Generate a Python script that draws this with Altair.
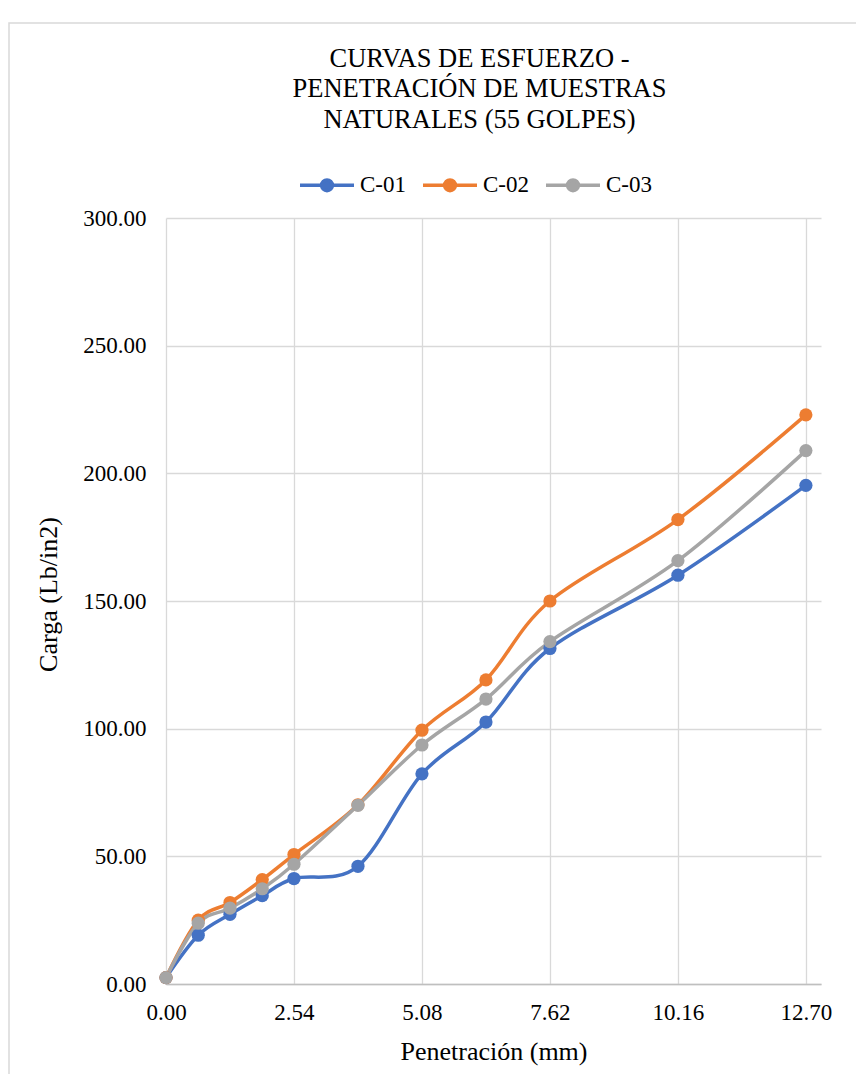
import altair as alt
import pandas as pd

# ---- data ----
penetracion = [0.00, 0.64, 1.27, 1.91, 2.54, 3.81, 5.08, 6.35, 7.62, 10.16, 12.70]
c01 = [2.5, 19.1, 27.3, 34.6, 41.3, 46.1, 82.3, 102.6, 131.4, 160.1, 195.3]
c02 = [2.5, 25.0, 31.9, 40.9, 50.7, 70.2, 99.4, 119.1, 150.0, 181.9, 222.9]
c03 = [2.5, 23.8, 29.7, 37.3, 46.9, 70.0, 93.6, 111.6, 134.1, 165.8, 208.9]
series_names = ["C-01", "C-02", "C-03"]
series_colors = ["#4472C4", "#ED7D31", "#A5A5A5"]
x_ticks = [0.00, 2.54, 5.08, 7.62, 10.16, 12.70]
y_ticks = [0, 50, 100, 150, 200, 250, 300]
title_lines = ["CURVAS DE ESFUERZO -", "PENETRACIÓN DE MUESTRAS", "NATURALES (55 GOLPES)"]

rows = []
for name, vals in zip(series_names, [c01, c02, c03]):
    for xv, yv in zip(penetracion, vals):
        rows.append({"x": xv, "y": yv, "serie": name})
df = pd.DataFrame(rows)

FONT = "Liberation Serif"
W, H = 655, 766

scale = alt.Scale(domain=series_names, range=series_colors)
legend_path = "M-1,0L1,0M-0.2,0A0.2,0.2 0 1,0 0.2,0A0.2,0.2 0 1,0 -0.2,0Z"
leg = alt.Legend(
    title=None, orient="none", direction="horizontal",
    legendX=132, legendY=-62, symbolType=legend_path, symbolSize=2916,
    symbolStrokeWidth=3.5, symbolOpacity=1, labelFont=FONT, labelFontSize=23,
    labelColor="#000000", labelOffset=4, columnPadding=10, padding=0,
)

xenc = alt.X("x:Q", scale=alt.Scale(domain=[0, 13], nice=False, zero=False),
             axis=alt.Axis(values=x_ticks, format=".2f", title="Penetración (mm)",
                           grid=True, gridColor="#D9D9D9", gridWidth=1.3,
                           domain=True, domainColor="#BFBFBF", domainWidth=1.5,
                           ticks=False, tickSize=0, labelPadding=17, labelFlush=False,
                           labelFont=FONT, labelFontSize=23, labelColor="#000000",
                           titleFont=FONT, titleFontSize=26, titleFontWeight="normal",
                           titleColor="#000000", titlePadding=14))
yenc = alt.Y("y:Q", scale=alt.Scale(domain=[0, 300], nice=False),
             axis=alt.Axis(values=y_ticks, format=".2f", title="Carga (Lb/in2)",
                           grid=True, gridColor="#D9D9D9", gridWidth=1.3,
                           domain=False, ticks=False, tickSize=0, labelPadding=20,
                           labelFlush=False,
                           labelFont=FONT, labelFontSize=23, labelColor="#000000",
                           titleFont=FONT, titleFontSize=26, titleFontWeight="normal",
                           titleColor="#000000", titleX=-110, titleY=376,
                           titleBaseline="alphabetic"))

frame = alt.Chart(pd.DataFrame({"a": [0]})).mark_rect(
    fill="transparent", stroke="#D9D9D9", strokeWidth=1.5
).encode(x=alt.value(-157), x2=alt.value(900), y=alt.value(-195), y2=alt.value(1100))

base = alt.Chart(df)
lines = base.mark_line(interpolate="cardinal", strokeWidth=3.5).encode(
    x=xenc, y=yenc, stroke=alt.Stroke("serie:N", scale=scale, legend=leg),
    detail="serie:N")
points = base.mark_circle(size=175, opacity=1).encode(
    x="x:Q", y="y:Q", fill=alt.Fill("serie:N", scale=scale, legend=leg))

chart = alt.layer(frame, lines, points).properties(
    width=W, height=H,
    autosize=alt.AutoSizeParams(type="none"),
    padding={"left": 158, "top": 210, "right": 35, "bottom": 90},
    title=alt.TitleParams(title_lines, font=FONT, fontSize=26.5, fontWeight="normal",
                          color="#000000", lineHeight=30.5, anchor="middle",
                          dx=-14, offset=-111),
).configure_view(stroke=None)

chart.save("out.html", embed_options={"renderer": "svg", "actions": False})
